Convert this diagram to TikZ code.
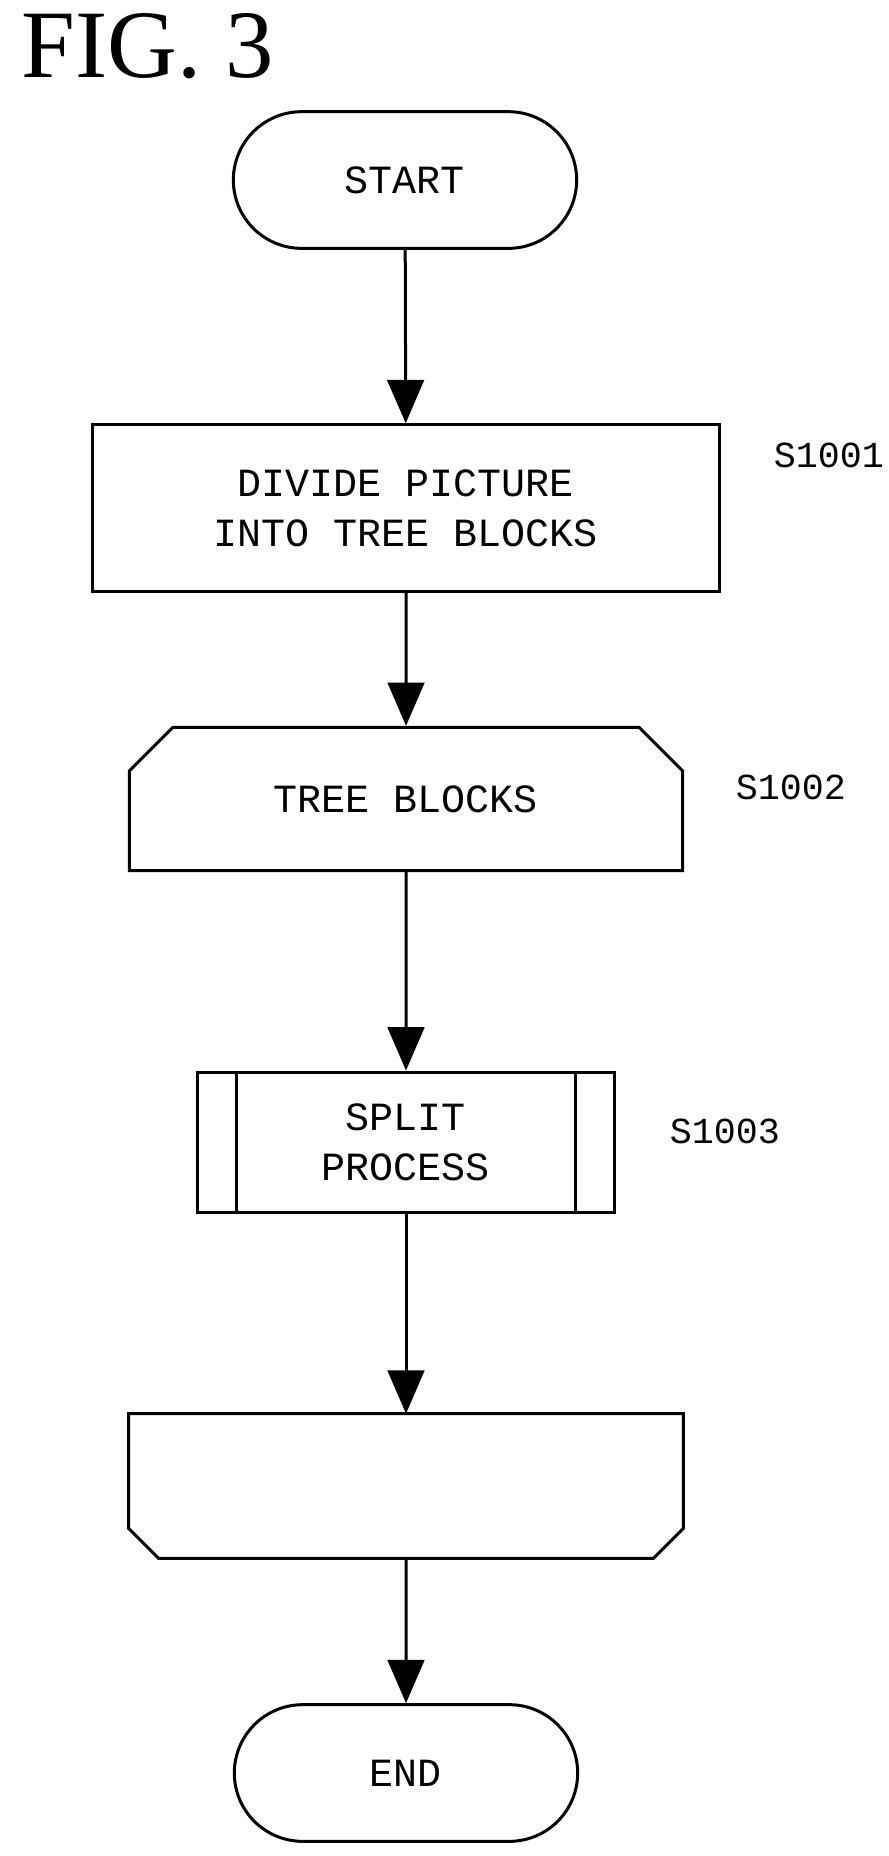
\documentclass[tikz,border=0pt]{standalone}
\usepackage{fontspec}
\setmainfont{Liberation Serif}
\setmonofont{Liberation Mono}
\usetikzlibrary{arrows.meta,shapes.misc}
\tikzset{%
  myedge/.style={-{Triangle[length=13pt,width=11pt]}, line width=0.9pt},
  mybox/.style={draw=black, line width=0.9pt, font=\ttfamily\fontsize{12}{15}\selectfont, align=center, inner sep=0pt},
  myterm/.style={mybox, rounded rectangle},
  mystep/.style={font=\ttfamily\fontsize{11}{14}\selectfont, anchor=west}
}

\begin{document}
\begin{tikzpicture}[x=0.3pt, y=-0.3pt]
  \useasboundingbox (0,0) rectangle (888,1856);
  \node[anchor=north west, font=\fontsize{29}{30}\selectfont] (fig) at (10,2) {FIG. 3};
  \node[myterm, minimum width=103pt, minimum height=41pt] (start) at (405,180) {START};
  \node[mybox, rectangle, minimum width=188pt, minimum height=50pt] (b1) at (406,508) {DIVIDE PICTURE\\INTO TREE BLOCKS};
  \node[mybox, chamfered rectangle, chamfered rectangle corners={north west,north east},
        chamfered rectangle xsep=9pt, chamfered rectangle ysep=9pt,
        minimum width=166pt, minimum height=43pt] (b2) at (406,799) {TREE BLOCKS};
  \node[mybox, rectangle, minimum width=125pt, minimum height=42pt] (b3) at (406,1142) {SPLIT\\PROCESS};
  \draw[line width=0.9pt] ([xshift=12pt]b3.north west) -- ([xshift=12pt]b3.south west);
  \draw[line width=0.9pt] ([xshift=-12pt]b3.north east) -- ([xshift=-12pt]b3.south east);
  \node[minimum width=166pt, minimum height=43pt, inner sep=0pt] (b4) at (406,1486) {};
  \draw[line width=0.9pt] (b4.north west) -- (b4.north east) -- ([yshift=9pt]b4.south east)
    -- ([xshift=-9pt]b4.south east) -- ([xshift=9pt]b4.south west)
    -- ([yshift=9pt]b4.south west) -- cycle;
  \node[myterm, minimum width=103pt, minimum height=41pt] (end) at (406,1773) {END};
  % step labels
  \node[mystep] (s1) at (762,455) {S1001};
  \node[mystep] (s2) at (724,787) {S1002};
  \node[mystep] (s3) at (658,1131) {S1003};
  % connectors
  \draw[myedge] (start) -- (b1);
  \draw[myedge] (b1) -- (b2);
  \draw[myedge] (b2) -- (b3);
  \draw[myedge] (b3) -- (b4);
  \draw[myedge] (b4) -- (end);
\end{tikzpicture}
\end{document}
